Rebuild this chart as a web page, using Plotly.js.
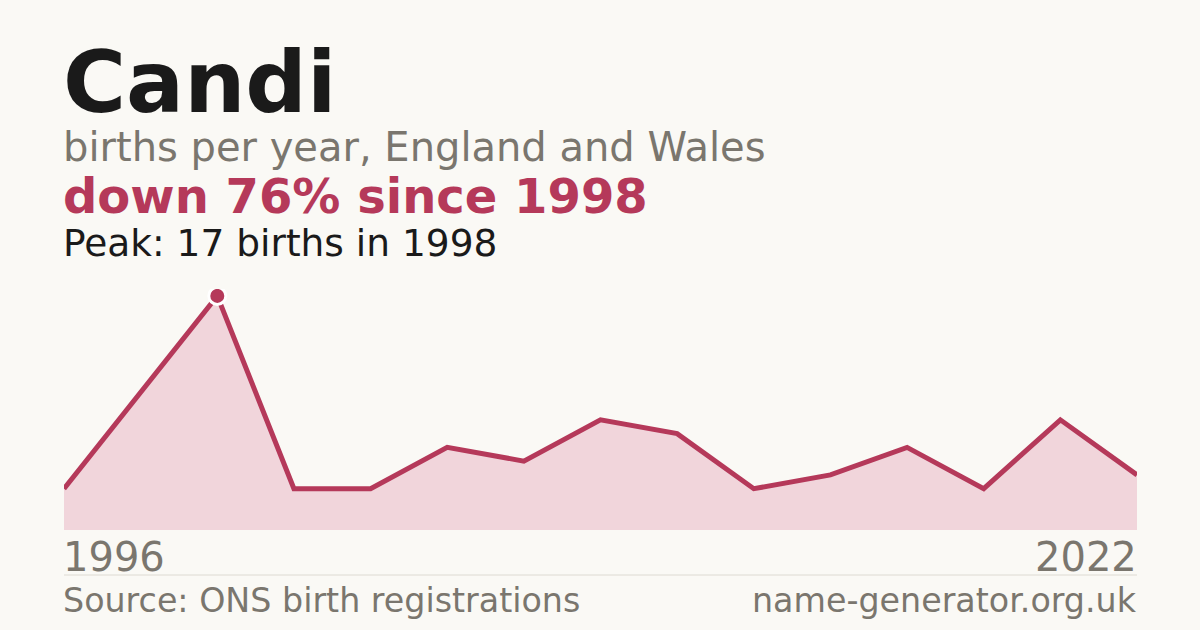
<!DOCTYPE html>
<html>
<head>
<meta charset="utf-8">
<script src="https://cdn.plot.ly/plotly-3.0.1.min.js"></script>
<style>
  html, body { margin: 0; padding: 0; background: #faf9f5; }
  #chart { width: 1200px; height: 630px; }
</style>
</head>
<body>
<div id="chart"></div>
<script>
// years that have registrations (only the end points are labelled)
var years = ['1996', '1997', '1998', '2000', '2003', '2005', '2008', '2010',
             '2012', '2014', '2016', '2018', '2019', '2021', '2022'];
var births = [3, 10, 17, 3, 3, 6, 5, 8, 7, 3, 4, 6, 3, 8, 4];

var babyName = 'Candi';
var subtitle = 'births per year, England and Wales';
var source = 'Source: ONS birth registrations';
var site = 'name-generator.org.uk';

var peakIdx = births.indexOf(Math.max.apply(null, births));
var peak = births[peakIdx];
var last = births[births.length - 1];
var change = Math.round((1 - last / peak) * 100);

var red = '#b5395a';
var grey = '#7a766e';

// pixel row -> paper y (plot area spans 289..530)
var plotTop = 289, plotBottom = 530;
function py(p) { return (plotBottom - p) / (plotBottom - plotTop); }

var area = {
  x: years, y: births, type: 'scatter', mode: 'lines',
  line: {color: red, width: 5},
  fill: 'tozeroy', fillcolor: '#f1d5db',
  hoverinfo: 'skip'
};
var peakDot = {
  x: [years[peakIdx]], y: [peak], type: 'scatter', mode: 'markers',
  marker: {color: red, size: 17, line: {color: '#ffffff', width: 3}},
  hoverinfo: 'skip'
};

function txt(text, x, xanchor, y, size, color, bold) {
  return {
    text: bold ? '<b>' + text + '</b>' : text,
    xref: 'paper', yref: 'paper', x: x, y: py(y),
    xanchor: xanchor, yanchor: 'middle', showarrow: false,
    borderpad: 0,
    xshift: xanchor === 'left' ? -2 : 1,
    font: {family: 'DejaVu Sans', size: size, color: color}
  };
}

var layout = {
  width: 1200, height: 630,
  paper_bgcolor: '#faf9f5', plot_bgcolor: '#faf9f5',
  margin: {l: 64, r: 63, t: plotTop, b: 630 - plotBottom, pad: 0},
  showlegend: false,
  xaxis: {type: 'category', range: [0, years.length - 1], visible: false, fixedrange: true},
  yaxis: {range: [0, 17.5], visible: false, fixedrange: true},
  annotations: [
    txt(babyName, 0, 'left', 82, 86, '#1a1a1a', true),
    txt(subtitle, 0, 'left', 147, 40, grey, false),
    txt('down ' + change + '% since ' + years[peakIdx], 0, 'left', 196, 48, red, true),
    txt('Peak: ' + peak + ' births in ' + years[peakIdx], 0, 'left', 243, 37.5, '#1a1a1a', false),
    txt(years[0], 0, 'left', 557, 40, grey, false),
    txt(years[years.length - 1], 1, 'right', 557, 40, grey, false),
    txt(source, 0, 'left', 600, 33.3, grey, false),
    txt(site, 1, 'right', 600, 33.3, grey, false)
  ],
  shapes: [{
    type: 'line', xref: 'paper', yref: 'paper',
    x0: 0, x1: 1, y0: py(575), y1: py(575),
    line: {color: '#dddad2', width: 1}
  }]
};

Plotly.newPlot('chart', [area, peakDot], layout, {displayModeBar: false, staticPlot: true});
</script>
</body>
</html>
